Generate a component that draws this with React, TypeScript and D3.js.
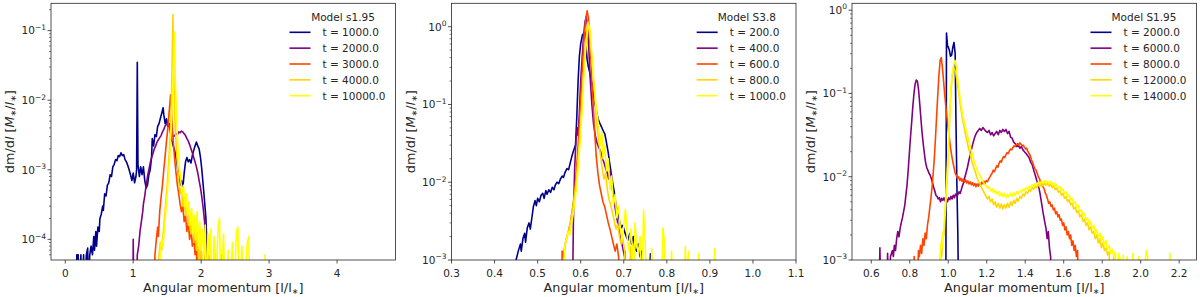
import * as d3 from 'd3';

type Pt = [number, number];

// angular momentum l, dm/dl ; 0 = empty bin (drops below the axis)
const s195_t1000: Pt[] = [[0.16,0],[0.17,6e-5],[0.19,6e-5],[0.2,0],[0.23,6e-5],[0.24,0],[0.27,6e-5],[0.28,0],[0.31,6e-5],[0.33,7.5e-5],[0.34,0],[0.36,6e-5],[0.38,8e-5],[0.4,6e-5],[0.42,1.1e-4],[0.43,7e-5],[0.45,1.3e-4],[0.46,8e-5],[0.48,1.5e-4],[0.5,1.3e-4],[0.51,2e-4],[0.53,2.3e-4],[0.55,3e-4],[0.56,2.6e-4],[0.58,4.5e-4],[0.6,4.2e-4],[0.62,6e-4],[0.64,6.5e-4],[0.66,8.5e-4],[0.68,8e-4],[0.7,1.1e-3],[0.72,1.2e-3],[0.74,1.4e-3],[0.76,1.35e-3],[0.78,1.6e-3],[0.8,1.55e-3],[0.82,1.75e-3],[0.84,1.6e-3],[0.86,1.65e-3],[0.88,1.4e-3],[0.9,1.3e-3],[0.92,1.15e-3],[0.94,1.0e-3],[0.96,8.5e-4],[0.98,7e-4],[1.0,9e-4],[1.02,6.5e-4],[1.04,8e-4],[1.05,1.0e-3],[1.06,3.5e-2],[1.07,1.2e-3],[1.09,8e-4],[1.11,1.1e-3],[1.13,8.5e-4],[1.15,1.1e-3],[1.17,7e-4],[1.19,5.5e-4],[1.21,6e-4],[1.23,8.5e-4],[1.25,1.0e-3],[1.27,1.5e-3],[1.28,2.8e-3],[1.3,2.2e-3],[1.32,3.2e-3],[1.34,3.0e-3],[1.36,4.2e-3],[1.38,4.6e-3],[1.4,5.5e-3],[1.42,6.5e-3],[1.44,7.8e-3],[1.45,6.2e-3],[1.47,4.6e-3],[1.49,5.4e-3],[1.51,4.2e-3],[1.53,4.6e-3],[1.55,3.3e-3],[1.57,2.6e-3],[1.59,2.2e-3],[1.61,1.9e-3],[1.63,1.5e-3],[1.65,1.1e-3],[1.67,8e-4],[1.69,6e-4],[1.71,7e-4],[1.73,5.5e-4],[1.75,9e-4],[1.77,1.3e-3],[1.79,1.5e-3],[1.81,1.3e-3],[1.83,1.4e-3],[1.85,1.25e-3],[1.87,1.6e-3],[1.89,1.9e-3],[1.91,2.2e-3],[1.93,2.5e-3],[1.95,2.2e-3],[1.97,2.0e-3],[1.99,1.5e-3],[2.01,1.0e-3],[2.03,6e-4],[2.05,3.5e-4],[2.07,2e-4],[2.08,1.1e-4],[2.09,0]];
const s195_t2000: Pt[] = [[0.995,0],[1.0,1e-4],[1.01,0],[1.05,0],[1.06,6e-5],[1.08,8e-5],[1.1,1.3e-4],[1.12,1.8e-4],[1.14,2.5e-4],[1.15,3.2e-4],[1.17,4.2e-4],[1.19,6e-4],[1.21,8e-4],[1.23,1.0e-3],[1.25,1.25e-3],[1.27,1.5e-3],[1.29,1.7e-3],[1.31,2.0e-3],[1.33,2.2e-3],[1.35,2.5e-3],[1.37,2.7e-3],[1.39,2.9e-3],[1.41,3.1e-3],[1.43,3.5e-3],[1.45,3.8e-3],[1.47,4.3e-3],[1.49,4.5e-3],[1.51,4.7e-3],[1.53,4.2e-3],[1.55,3.6e-3],[1.57,3.2e-3],[1.59,3.0e-3],[1.61,3.1e-3],[1.63,3.3e-3],[1.65,3.2e-3],[1.67,3.5e-3],[1.69,3.4e-3],[1.71,3.6e-3],[1.73,3.5e-3],[1.75,3.3e-3],[1.77,3.1e-3],[1.79,2.8e-3],[1.81,2.6e-3],[1.83,2.3e-3],[1.85,2.0e-3],[1.87,1.75e-3],[1.89,1.5e-3],[1.91,1.3e-3],[1.93,1.1e-3],[1.95,9e-4],[1.97,7e-4],[1.99,5.5e-4],[2.01,4e-4],[2.03,2.8e-4],[2.05,1.8e-4],[2.06,1.1e-4],[2.07,7e-5],[2.08,0]];
const s195_t3000: Pt[] = [[1.31,0],[1.32,6e-5],[1.34,1e-4],[1.36,1.5e-4],[1.37,1.1e-4],[1.39,2.5e-4],[1.41,4e-4],[1.43,6e-4],[1.45,1.0e-3],[1.47,1.6e-3],[1.49,2.6e-3],[1.51,4e-3],[1.53,7e-3],[1.55,1.2e-2],[1.56,9e-3],[1.57,5e-3],[1.59,2.5e-3],[1.61,1.4e-3],[1.63,9e-4],[1.65,6e-4],[1.67,4.5e-4],[1.69,3.2e-4],[1.71,2.5e-4],[1.73,3e-4],[1.75,1.8e-4],[1.77,2.2e-4],[1.79,1.3e-4],[1.81,1.8e-4],[1.83,1e-4],[1.85,1.4e-4],[1.87,8e-5],[1.89,1.1e-4],[1.91,6e-5],[1.93,1.2e-4],[1.94,0],[1.96,7e-5],[1.97,0],[2.0,6e-5],[2.01,0]];
const s195_t4000: Pt[] = [[1.36,0],[1.38,6e-5],[1.4,9e-5],[1.42,7e-5],[1.44,1.2e-4],[1.46,2e-4],[1.48,3.5e-4],[1.5,6e-4],[1.52,1.2e-3],[1.54,2.5e-3],[1.56,8e-3],[1.57,2.5e-2],[1.585,0.17],[1.595,3e-2],[1.61,6e-3],[1.63,2.5e-3],[1.65,1.2e-3],[1.67,7e-4],[1.69,4.5e-4],[1.71,5.5e-4],[1.73,3e-4],[1.75,4e-4],[1.77,2.2e-4],[1.79,3e-4],[1.81,1.6e-4],[1.83,2.4e-4],[1.85,1.2e-4],[1.87,2e-4],[1.89,9e-5],[1.91,1.5e-4],[1.93,7e-5],[1.95,1.3e-4],[1.97,0],[1.99,1e-4],[2.01,6e-5],[2.03,0],[2.06,9e-5],[2.08,0],[2.12,8e-5],[2.14,0],[2.2,7e-5],[2.22,0],[2.3,6e-5],[2.31,0]];
const s195_t10000: Pt[] = [[1.38,0],[1.4,7e-5],[1.42,1e-4],[1.44,8e-5],[1.46,1.5e-4],[1.48,2.5e-4],[1.5,4.5e-4],[1.52,8e-4],[1.54,1.6e-3],[1.56,4e-3],[1.58,1.5e-2],[1.6,6e-2],[1.61,0.095],[1.62,2e-2],[1.64,5e-3],[1.66,2e-3],[1.68,1.1e-3],[1.7,7e-4],[1.72,4.5e-4],[1.74,6e-4],[1.76,3e-4],[1.78,4.5e-4],[1.8,2.2e-4],[1.82,3.5e-4],[1.84,1.6e-4],[1.86,2.8e-4],[1.88,1.2e-4],[1.9,2.2e-4],[1.92,1e-4],[1.94,2.5e-4],[1.96,8e-5],[1.98,1.8e-4],[2.0,7e-5],[2.02,1.4e-4],[2.04,6e-5],[2.06,1.6e-4],[2.08,0],[2.1,1.2e-4],[2.12,6e-5],[2.14,1.4e-4],[2.16,0],[2.19,1.1e-4],[2.21,0],[2.25,1.6e-4],[2.27,2e-4],[2.29,0],[2.33,1.2e-4],[2.35,0],[2.4,7e-5],[2.42,0],[2.46,9e-5],[2.48,0],[2.52,1.3e-4],[2.54,1.5e-4],[2.56,0],[2.6,8e-5],[2.62,0],[2.68,9e-5],[2.7,1.1e-4],[2.72,0],[2.93,0],[2.94,6e-5],[2.95,0]];

const s38_t200: Pt[] = [[0.447,0],[0.45,1.0e-3],[0.455,1.3e-3],[0.46,1.6e-3],[0.462,1.3e-3],[0.466,1.9e-3],[0.47,2.2e-3],[0.472,1.7e-3],[0.476,2.6e-3],[0.48,3.0e-3],[0.483,2.5e-3],[0.487,3.6e-3],[0.49,4.8e-3],[0.494,5.8e-3],[0.497,5.0e-3],[0.5,6.2e-3],[0.504,5.6e-3],[0.508,6.8e-3],[0.512,7.2e-3],[0.515,6.2e-3],[0.519,7.8e-3],[0.522,7.0e-3],[0.526,8.0e-3],[0.53,7.4e-3],[0.534,8.6e-3],[0.538,8.0e-3],[0.541,9.2e-3],[0.545,1.0e-2],[0.549,9.6e-3],[0.553,1.1e-2],[0.557,1.2e-2],[0.56,1.15e-2],[0.564,1.35e-2],[0.568,1.5e-2],[0.572,1.45e-2],[0.576,1.8e-2],[0.58,2.2e-2],[0.584,2.6e-2],[0.588,3.0e-2],[0.591,7e-2],[0.594,0.2],[0.597,0.42],[0.6,0.6],[0.604,0.78],[0.607,0.82],[0.61,0.86],[0.612,0.6],[0.615,0.38],[0.618,0.3],[0.621,0.26],[0.625,0.2],[0.629,0.15],[0.632,0.11],[0.636,0.085],[0.64,0.066],[0.644,0.058],[0.648,0.052],[0.652,0.046],[0.656,0.042],[0.66,0.032],[0.664,0.024],[0.667,0.018],[0.67,0.014],[0.674,0.01],[0.678,7.5e-3],[0.682,5e-3],[0.686,4.2e-3],[0.69,3.2e-3],[0.694,2.6e-3],[0.698,2.8e-3],[0.702,2.3e-3],[0.706,2.0e-3],[0.71,1.8e-3],[0.714,2.2e-3],[0.718,1.6e-3],[0.722,2.0e-3],[0.726,1.4e-3],[0.73,1.3e-3],[0.734,1.6e-3],[0.738,1.1e-3],[0.742,1.3e-3],[0.746,0],[0.758,0],[0.762,1.2e-3],[0.766,0]];
const s38_t400: Pt[] = [[0.581,0],[0.583,3e-3],[0.586,1.5e-2],[0.589,3.5e-2],[0.592,5e-2],[0.594,4e-2],[0.597,8e-2],[0.6,0.2],[0.604,0.45],[0.607,0.8],[0.61,1.15],[0.613,1.35],[0.616,1.0],[0.619,0.5],[0.622,0.22],[0.626,0.1],[0.63,0.055],[0.634,0.04],[0.638,0.032],[0.642,0.028],[0.646,0.025],[0.65,0.021],[0.654,0.018],[0.658,0.015],[0.662,0.013],[0.665,0.011],[0.668,0.014],[0.671,0.012],[0.674,8e-3],[0.678,5.5e-3],[0.682,4e-3],[0.686,3e-3],[0.69,2.3e-3],[0.694,1.8e-3],[0.698,1.4e-3],[0.702,1.1e-3],[0.705,0]];
const s38_t600: Pt[] = [[0.555,0],[0.557,1.3e-3],[0.56,1.1e-3],[0.564,1.6e-3],[0.568,2.0e-3],[0.572,2.4e-3],[0.576,3.0e-3],[0.58,4.2e-3],[0.584,6e-3],[0.588,1.0e-2],[0.592,2.0e-2],[0.596,4.5e-2],[0.6,0.11],[0.604,0.3],[0.608,0.75],[0.612,1.3],[0.615,1.6],[0.618,1.3],[0.621,0.7],[0.624,0.35],[0.627,0.16],[0.63,0.08],[0.633,0.04],[0.636,0.022],[0.64,0.013],[0.644,9e-3],[0.648,7e-3],[0.652,5.5e-3],[0.656,4.8e-3],[0.66,3.8e-3],[0.664,3.0e-3],[0.668,2.5e-3],[0.672,2.0e-3],[0.676,1.6e-3],[0.68,1.3e-3],[0.684,1.6e-3],[0.688,1.1e-3],[0.692,0],[0.7,0],[0.703,1.3e-3],[0.706,0]];
const s38_t800: Pt[] = [[0.56,0],[0.562,1.4e-3],[0.566,1.8e-3],[0.57,2.2e-3],[0.574,2.6e-3],[0.578,3.4e-3],[0.582,4.8e-3],[0.586,7e-3],[0.59,1.1e-2],[0.594,2e-2],[0.598,4e-2],[0.602,0.09],[0.606,0.22],[0.61,0.5],[0.614,0.9],[0.617,1.15],[0.62,1.0],[0.623,0.65],[0.626,0.38],[0.63,0.2],[0.634,0.1],[0.638,0.055],[0.642,0.034],[0.646,0.022],[0.65,0.015],[0.654,0.011],[0.658,0.013],[0.662,8e-3],[0.666,6e-3],[0.67,5e-3],[0.674,4e-3],[0.678,3.2e-3],[0.682,2.5e-3],[0.686,2.9e-3],[0.69,2e-3],[0.694,1.6e-3],[0.698,1.9e-3],[0.702,1.3e-3],[0.706,0],[0.712,0],[0.716,1.5e-3],[0.72,0]];
const s38_t1000: Pt[] = [[0.56,0],[0.563,1.5e-3],[0.567,1.9e-3],[0.571,2.3e-3],[0.575,2.1e-3],[0.579,3.0e-3],[0.583,4.0e-3],[0.587,6e-3],[0.591,9e-3],[0.595,1.8e-2],[0.599,3.5e-2],[0.603,8e-2],[0.607,0.2],[0.611,0.45],[0.615,0.8],[0.618,1.05],[0.621,0.95],[0.624,0.6],[0.627,0.35],[0.63,0.2],[0.634,0.12],[0.638,0.075],[0.642,0.05],[0.646,0.03],[0.649,0.045],[0.652,0.02],[0.656,0.03],[0.66,0.014],[0.664,0.02],[0.668,8e-3],[0.672,0.012],[0.676,5e-3],[0.68,7e-3],[0.684,3.5e-3],[0.688,5e-3],[0.692,2.6e-3],[0.696,1.8e-3],[0.7,2.8e-3],[0.704,4.5e-3],[0.708,2e-3],[0.712,1.3e-3],[0.716,2.5e-3],[0.72,1.5e-3],[0.724,0],[0.726,3e-3],[0.73,1.6e-3],[0.734,1.2e-3],[0.738,2e-3],[0.742,0],[0.746,4.4e-3],[0.75,1.5e-3],[0.754,0],[0.762,0],[0.765,1.4e-3],[0.768,0],[0.788,0],[0.791,2.6e-3],[0.794,1.8e-3],[0.797,0],[0.808,0],[0.811,1.3e-3],[0.814,0],[0.84,0],[0.843,1.5e-3],[0.846,0],[0.85,1.3e-3],[0.852,0],[0.872,0],[0.874,1.2e-3],[0.876,0],[0.909,0],[0.911,1.4e-3],[0.913,0]];

const S195_t2000: Pt[] = [[0.985,0],[0.988,1e-3],[0.991,0.53],[0.996,0.38],[1.0,0.36],[1.006,0.33],[1.012,0.28],[1.018,0.29],[1.024,0.36],[1.03,0.41],[1.036,0.3],[1.04,0.05],[1.045,8e-3],[1.05,2e-3],[1.054,0]];
const S195_t6000: Pt[] = [[0.64,0],[0.645,1.4e-3],[0.65,0],[0.68,0],[0.685,1.2e-3],[0.69,0],[0.7,1.1e-3],[0.71,1.3e-3],[0.715,1.1e-3],[0.72,1.5e-3],[0.726,1.3e-3],[0.732,1.8e-3],[0.738,2.2e-3],[0.744,1.9e-3],[0.75,2.4e-3],[0.756,2.8e-3],[0.762,3.2e-3],[0.768,3.8e-3],[0.774,4.5e-3],[0.78,6e-3],[0.786,8e-3],[0.792,1.2e-2],[0.798,1.9e-2],[0.804,3e-2],[0.81,4.5e-2],[0.816,7e-2],[0.822,0.1],[0.828,0.13],[0.834,0.145],[0.84,0.14],[0.846,0.11],[0.852,0.075],[0.858,0.05],[0.864,0.034],[0.87,0.025],[0.876,0.019],[0.882,0.015],[0.888,0.013],[0.894,0.012],[0.9,0.011],[0.906,0.0105],[0.912,9.5e-3],[0.918,8.5e-3],[0.924,7.5e-3],[0.93,6.8e-3],[0.936,6e-3],[0.942,5.8e-3],[0.948,5.4e-3],[0.954,5.6e-3],[0.96,5.0e-3],[0.966,5.5e-3],[0.972,5.2e-3],[0.978,5.6e-3],[0.984,5.1e-3],[0.99,5.4e-3],[0.996,5.0e-3],[1.002,5.6e-3],[1.008,5.3e-3],[1.014,5.8e-3],[1.02,5.4e-3],[1.026,6e-3],[1.032,5.6e-3],[1.038,6.2e-3],[1.044,5.9e-3],[1.05,6.1e-3],[1.056,6.6e-3],[1.062,6.3e-3],[1.068,7e-3],[1.074,7.8e-3],[1.08,8.5e-3],[1.086,9.8e-3],[1.092,1.1e-2],[1.1,1.3e-2],[1.108,1.6e-2],[1.116,1.9e-2],[1.124,2.3e-2],[1.132,2.7e-2],[1.14,3.1e-2],[1.148,3.4e-2],[1.156,3.6e-2],[1.164,3.8e-2],[1.172,3.6e-2],[1.18,3.9e-2],[1.188,3.7e-2],[1.196,3.5e-2],[1.204,3.4e-2],[1.212,3.6e-2],[1.22,3.2e-2],[1.228,3.4e-2],[1.236,3.1e-2],[1.244,3.3e-2],[1.252,3.5e-2],[1.26,3.2e-2],[1.268,3.6e-2],[1.276,3.4e-2],[1.284,3.7e-2],[1.292,3.5e-2],[1.3,3.7e-2],[1.308,3.3e-2],[1.316,3.5e-2],[1.324,3.0e-2],[1.332,2.9e-2],[1.34,2.6e-2],[1.348,2.5e-2],[1.356,2.3e-2],[1.364,2.4e-2],[1.372,2.2e-2],[1.38,2.3e-2],[1.388,2.1e-2],[1.396,2.0e-2],[1.404,1.9e-2],[1.412,1.8e-2],[1.42,1.7e-2],[1.428,1.5e-2],[1.436,1.4e-2],[1.444,1.2e-2],[1.452,1.05e-2],[1.46,9e-3],[1.468,8e-3],[1.476,6.5e-3],[1.484,5e-3],[1.492,3.8e-3],[1.5,3e-3],[1.508,2.4e-3],[1.514,1.8e-3],[1.52,2.2e-3],[1.526,1.4e-3],[1.532,1.1e-3],[1.536,0]];
const S195_t8000: Pt[] = [[0.82,0],[0.823,1.1e-3],[0.828,0],[0.84,0],[0.845,1.3e-3],[0.85,1.1e-3],[0.856,1.5e-3],[0.862,1.2e-3],[0.868,1.8e-3],[0.874,1.5e-3],[0.88,2.1e-3],[0.886,1.8e-3],[0.892,2.6e-3],[0.898,3.2e-3],[0.904,4.2e-3],[0.91,5.5e-3],[0.916,7.5e-3],[0.922,1.1e-2],[0.928,1.7e-2],[0.934,3e-2],[0.94,5.5e-2],[0.946,0.1],[0.952,0.17],[0.958,0.25],[0.964,0.27],[0.97,0.2],[0.976,0.14],[0.982,0.095],[0.988,0.068],[0.994,0.05],[1.0,0.037],[1.006,0.029],[1.012,0.022],[1.018,0.018],[1.024,0.015],[1.03,0.013],[1.036,0.011],[1.042,0.0105],[1.048,9.5e-3],[1.054,1.0e-2],[1.06,9e-3],[1.066,9.6e-3],[1.072,8.8e-3],[1.078,9.4e-3],[1.084,8.6e-3],[1.09,9.2e-3],[1.096,8.4e-3],[1.102,8.9e-3],[1.108,8.2e-3],[1.114,8.7e-3],[1.12,8.0e-3],[1.126,8.5e-3],[1.132,7.8e-3],[1.138,8.3e-3],[1.144,7.6e-3],[1.15,8.2e-3],[1.156,7.7e-3],[1.162,8.4e-3],[1.168,7.9e-3],[1.174,8.6e-3],[1.18,8.2e-3],[1.186,8.8e-3],[1.192,8.4e-3],[1.198,9.0e-3],[1.204,8.7e-3],[1.21,9.4e-3],[1.216,9.9e-3],[1.222,1.05e-2],[1.228,1.1e-2],[1.234,1.2e-2],[1.24,1.15e-2],[1.246,1.25e-2],[1.252,1.35e-2],[1.258,1.3e-2],[1.264,1.45e-2],[1.27,1.55e-2],[1.276,1.5e-2],[1.282,1.65e-2],[1.288,1.75e-2],[1.294,1.7e-2],[1.3,1.85e-2],[1.306,1.95e-2],[1.312,1.9e-2],[1.318,2.05e-2],[1.324,2.15e-2],[1.33,2.1e-2],[1.336,2.25e-2],[1.342,2.35e-2],[1.348,2.3e-2],[1.354,2.45e-2],[1.36,2.5e-2],[1.366,2.4e-2],[1.372,2.55e-2],[1.378,2.45e-2],[1.384,2.35e-2],[1.39,2.4e-2],[1.396,2.25e-2],[1.402,2.15e-2],[1.408,2.2e-2],[1.414,2.0e-2],[1.42,1.9e-2],[1.426,1.8e-2],[1.432,1.6e-2],[1.438,1.5e-2],[1.444,1.35e-2],[1.45,1.25e-2],[1.456,1.2e-2],[1.462,1.1e-2],[1.468,1.0e-2],[1.474,9.5e-3],[1.48,8.5e-3],[1.486,8e-3],[1.492,7.6e-3],[1.498,7.2e-3],[1.504,6.4e-3],[1.51,6e-3],[1.516,5.4e-3],[1.522,4.8e-3],[1.528,5e-3],[1.534,4.4e-3],[1.54,4.6e-3],[1.546,4.0e-3],[1.552,4.2e-3],[1.558,3.6e-3],[1.564,3.8e-3],[1.57,3.3e-3],[1.576,3.5e-3],[1.582,3.0e-3],[1.588,3.1e-3],[1.594,2.6e-3],[1.6,2.8e-3],[1.606,2.3e-3],[1.612,2.5e-3],[1.618,2e-3],[1.624,2.2e-3],[1.63,1.8e-3],[1.636,2e-3],[1.642,1.5e-3],[1.648,1.7e-3],[1.654,1.3e-3],[1.66,1.5e-3],[1.666,1.1e-3],[1.672,1.3e-3],[1.678,0]];
const S195_t12000: Pt[] = [[0.958,0],[0.962,1.3e-3],[0.966,1.1e-3],[0.97,1.7e-3],[0.974,2.2e-3],[0.978,2e-3],[0.982,3e-3],[0.986,4.2e-3],[0.99,6e-3],[0.994,9e-3],[0.998,1.4e-2],[1.002,2.4e-2],[1.006,4e-2],[1.01,6.5e-2],[1.015,0.11],[1.02,0.15],[1.025,0.18],[1.03,0.2],[1.035,0.19],[1.04,0.17],[1.046,0.14],[1.052,0.11],[1.058,0.088],[1.064,0.07],[1.07,0.057],[1.076,0.047],[1.082,0.04],[1.088,0.034],[1.094,0.029],[1.1,0.025],[1.108,0.021],[1.116,0.018],[1.124,0.015],[1.132,0.013],[1.14,0.0115],[1.148,0.01],[1.156,9e-3],[1.164,8.3e-3],[1.172,7.5e-3],[1.18,6.9e-3],[1.188,6.3e-3],[1.196,5.8e-3],[1.204,5.4e-3],[1.212,5.8e-3],[1.22,5.0e-3],[1.228,5.4e-3],[1.236,4.6e-3],[1.244,5.0e-3],[1.252,4.3e-3],[1.26,4.8e-3],[1.268,4.2e-3],[1.276,4.7e-3],[1.284,4.1e-3],[1.292,4.6e-3],[1.3,4.2e-3],[1.308,4.8e-3],[1.316,4.3e-3],[1.324,5.0e-3],[1.332,4.5e-3],[1.34,5.2e-3],[1.348,4.8e-3],[1.356,5.5e-3],[1.364,5.1e-3],[1.372,5.8e-3],[1.38,5.5e-3],[1.388,6.2e-3],[1.396,5.9e-3],[1.404,6.6e-3],[1.412,6.3e-3],[1.42,7.0e-3],[1.428,6.7e-3],[1.436,7.4e-3],[1.444,7.1e-3],[1.452,7.7e-3],[1.46,7.4e-3],[1.468,8.0e-3],[1.476,7.6e-3],[1.484,8.2e-3],[1.492,7.8e-3],[1.5,8.4e-3],[1.508,7.9e-3],[1.516,8.3e-3],[1.524,7.7e-3],[1.532,8.1e-3],[1.54,7.4e-3],[1.548,7.8e-3],[1.556,7.0e-3],[1.564,7.3e-3],[1.572,6.5e-3],[1.58,6.8e-3],[1.588,6.0e-3],[1.596,6.3e-3],[1.604,5.5e-3],[1.612,5.8e-3],[1.62,5.0e-3],[1.628,5.3e-3],[1.636,4.6e-3],[1.644,4.8e-3],[1.652,4.1e-3],[1.66,4.3e-3],[1.668,3.7e-3],[1.676,3.9e-3],[1.684,3.3e-3],[1.692,3.5e-3],[1.7,2.9e-3],[1.708,3.1e-3],[1.716,2.6e-3],[1.724,2.8e-3],[1.732,2.3e-3],[1.74,2.5e-3],[1.748,2.1e-3],[1.756,2.2e-3],[1.764,1.8e-3],[1.772,2.0e-3],[1.78,1.6e-3],[1.788,1.8e-3],[1.796,1.4e-3],[1.804,1.6e-3],[1.812,1.3e-3],[1.82,1.4e-3],[1.828,1.15e-3],[1.836,1.25e-3],[1.844,0],[1.86,1.1e-3],[1.866,0],[1.89,1.05e-3],[1.896,0]];
const S195_t14000: Pt[] = [[0.955,0],[0.958,1.2e-3],[0.962,1.6e-3],[0.966,1.4e-3],[0.97,2e-3],[0.974,1.8e-3],[0.978,2.6e-3],[0.982,3.5e-3],[0.986,5e-3],[0.99,7.5e-3],[0.994,1.1e-2],[0.998,1.8e-2],[1.002,3e-2],[1.006,5e-2],[1.01,8e-2],[1.015,0.13],[1.02,0.17],[1.025,0.2],[1.03,0.23],[1.035,0.25],[1.04,0.22],[1.046,0.17],[1.052,0.13],[1.058,0.1],[1.064,0.08],[1.07,0.065],[1.076,0.054],[1.082,0.046],[1.088,0.04],[1.094,0.035],[1.1,0.031],[1.108,0.026],[1.116,0.022],[1.124,0.019],[1.132,0.016],[1.14,0.014],[1.148,0.0125],[1.156,0.011],[1.164,0.0105],[1.172,9.5e-3],[1.18,8.8e-3],[1.188,8.2e-3],[1.196,7.8e-3],[1.204,7.2e-3],[1.212,7.6e-3],[1.22,6.8e-3],[1.228,7.2e-3],[1.236,6.4e-3],[1.244,6.9e-3],[1.252,6.2e-3],[1.26,6.6e-3],[1.268,5.9e-3],[1.276,6.4e-3],[1.284,5.8e-3],[1.292,6.3e-3],[1.3,5.6e-3],[1.308,6.2e-3],[1.316,5.7e-3],[1.324,6.3e-3],[1.332,5.8e-3],[1.34,6.4e-3],[1.348,6.0e-3],[1.356,6.6e-3],[1.364,6.2e-3],[1.372,6.8e-3],[1.38,6.5e-3],[1.388,7.1e-3],[1.396,6.8e-3],[1.404,7.4e-3],[1.412,7.1e-3],[1.42,7.7e-3],[1.428,7.4e-3],[1.436,8.0e-3],[1.444,7.7e-3],[1.452,8.3e-3],[1.46,8.0e-3],[1.468,8.6e-3],[1.476,8.2e-3],[1.484,8.8e-3],[1.492,8.4e-3],[1.5,9.0e-3],[1.508,8.5e-3],[1.516,8.9e-3],[1.524,8.3e-3],[1.532,8.8e-3],[1.54,8.1e-3],[1.548,8.5e-3],[1.556,7.7e-3],[1.564,8.1e-3],[1.572,7.3e-3],[1.58,7.6e-3],[1.588,6.8e-3],[1.596,7.1e-3],[1.604,6.3e-3],[1.612,6.6e-3],[1.62,5.8e-3],[1.628,6.1e-3],[1.636,5.3e-3],[1.644,5.5e-3],[1.652,4.8e-3],[1.66,5.0e-3],[1.668,4.3e-3],[1.676,4.5e-3],[1.684,3.8e-3],[1.692,4.0e-3],[1.7,3.4e-3],[1.708,3.6e-3],[1.716,3.0e-3],[1.724,3.2e-3],[1.732,2.7e-3],[1.74,2.9e-3],[1.748,2.4e-3],[1.756,2.6e-3],[1.764,2.1e-3],[1.772,2.3e-3],[1.78,1.9e-3],[1.788,2.1e-3],[1.796,1.7e-3],[1.804,1.9e-3],[1.812,1.5e-3],[1.82,1.7e-3],[1.828,1.35e-3],[1.836,1.5e-3],[1.844,1.2e-3],[1.852,1.35e-3],[1.86,1.1e-3],[1.868,1.25e-3],[1.876,0],[1.884,1.2e-3],[1.892,1.05e-3],[1.9,0],[1.91,1.15e-3],[1.916,0],[1.93,1.1e-3],[1.936,0],[1.96,1.2e-3],[1.966,0],[1.99,1.1e-3],[1.996,0],[2.03,1.3e-3],[2.036,1.1e-3],[2.042,0],[2.148,0],[2.152,1.2e-3],[2.156,0]];

const seriesColors = ['#00008b', '#800080', '#ff4500', '#ffd700', '#ffff00'];

const panelTitles = ['Model s1.95', 'Model S3.8', 'Model S1.95'];
const panelLabels = [
  ['t = 1000.0', 't = 2000.0', 't = 3000.0', 't = 4000.0', 't = 10000.0'],
  ['t = 200.0', 't = 400.0', 't = 600.0', 't = 800.0', 't = 1000.0'],
  ['t = 2000.0', 't = 6000.0', 't = 8000.0', 't = 12000.0', 't = 14000.0'],
];
const panelSeries = [
  [s195_t1000, s195_t2000, s195_t3000, s195_t4000, s195_t10000],
  [s38_t200, s38_t400, s38_t600, s38_t800, s38_t1000],
  [S195_t2000, S195_t6000, S195_t8000, S195_t12000, S195_t14000],
];
const xDomains: [number, number][] = [[-0.21, 4.86], [0.3, 1.1], [0.5, 2.29]];
const yDomains: [number, number][] = [[5.05e-5, 0.247], [1e-3, 2.0], [1e-3, 1.21]];
const xTickValues = [[0, 1, 2, 3, 4], [0.3, 0.4, 0.5, 0.6, 0.7, 0.8, 0.9, 1.0, 1.1], [0.6, 0.8, 1.0, 1.2, 1.4, 1.6, 1.8, 2.0, 2.2]];
const xTickDigits = [0, 1, 1];

const FONT = 'DejaVu Sans, sans-serif';
const W = 1200;
const H = 297;
const lefts = [51, 451.5, 852];
const PW = 344.5;
const TOP = 3.3;
const BOTTOM = 260;
const INK = '#262626';

// DejaVu Sans advance widths (em) for the legend characters
const ADV: Record<string, number> = { t: 0.392, ' ': 0.318, '=': 0.838, '.': 0.318 };
function textWidth(s: string, size: number) {
  let w = 0;
  for (const ch of s) w += ADV[ch] ?? 0.636;
  return w * size;
}

function Panel({ i }: { i: number }) {
  const left = lefts[i];
  const right = left + PW;
  const x = d3.scaleLinear().domain(xDomains[i]).range([left, right]);
  const y = d3.scaleLog().domain(yDomains[i]).range([BOTTOM, TOP]);
  const line = d3.line<Pt>()
    .x((d) => x(d[0]))
    .y((d) => (d[1] > 0 ? y(d[1]) : BOTTOM + 40));

  const [y0, y1] = yDomains[i];
  const majors: number[] = [];
  const minors: number[] = [];
  for (let k = Math.floor(Math.log10(y0)); k <= Math.ceil(Math.log10(y1)); k++) {
    const base = Math.pow(10, k);
    if (base >= y0 * 0.999 && base <= y1) majors.push(k);
    for (let m = 2; m <= 9; m++) {
      const v = m * base;
      if (v > y0 && v < y1) minors.push(v);
    }
  }

  const labels = panelLabels[i];
  const fs = 10.5;
  const maxW = Math.max(...labels.map((s) => textWidth(s, fs)));
  const textEnd = right - 10;
  const textStart = textEnd - maxW;
  const titleX = (textStart + textEnd) / 2 - 11;
  const clipId = `clip${i}`;
  const cx = (left + right) / 2;
  const cy = (TOP + BOTTOM) / 2;

  return (
    <g>
      <clipPath id={clipId}>
        <rect x={left} y={TOP} width={PW} height={BOTTOM - TOP} />
      </clipPath>
      <g clipPath={`url(#${clipId})`}>
        {panelSeries[i].map((s, j) => (
          <path key={j} d={line(s) || ''} fill="none" stroke={seriesColors[j]} strokeWidth={1.6} strokeLinejoin="round" />
        ))}
      </g>
      <rect x={left} y={TOP} width={PW} height={BOTTOM - TOP} fill="none" stroke={INK} strokeWidth={0.8} />
      {xTickValues[i].map((t) => (
        <g key={t}>
          <line x1={x(t)} x2={x(t)} y1={BOTTOM} y2={BOTTOM + 3.5} stroke={INK} strokeWidth={0.8} />
          <text x={x(t)} y={BOTTOM + 16.5} textAnchor="middle" fontSize={10.5} fill={INK}>
            {t.toFixed(xTickDigits[i])}
          </text>
        </g>
      ))}
      {minors.map((v) => (
        <line key={v} x1={left - 2} x2={left} y1={y(v)} y2={y(v)} stroke={INK} strokeWidth={0.6} />
      ))}
      {majors.map((k) => (
        <g key={k}>
          <line x1={left - 3.5} x2={left} y1={y(Math.pow(10, k))} y2={y(Math.pow(10, k))} stroke={INK} strokeWidth={0.8} />
          <text x={left - 5} y={y(Math.pow(10, k)) + 3.8} textAnchor="end" fontSize={10.5} fill={INK}>
            <tspan>10</tspan>
            <tspan dy={-4.5} fontSize={7.5}>{k < 0 ? `\u2212${-k}` : `${k}`}</tspan>
          </text>
        </g>
      ))}
      <text x={cx} y={291.5} textAnchor="middle" fontSize={12.8} fill={INK}>
        Angular momentum [l/l<tspan fontSize={8} dy={2}>{'\u2217'}</tspan><tspan dy={-2}>]</tspan>
      </text>
      <text transform={`translate(${left - 37},${cy}) rotate(-90)`} textAnchor="middle" fontSize={12.8} fill={INK}>
        dm/d<tspan fontStyle="italic">l</tspan> [<tspan fontStyle="italic">M</tspan>
        <tspan fontSize={8} dy={2}>{'\u2217'}</tspan>
        <tspan dy={-2}>/</tspan><tspan fontStyle="italic">l</tspan>
        <tspan fontSize={8} dy={2}>{'\u2217'}</tspan>
        <tspan dy={-2}>]</tspan>
      </text>
      <text x={titleX} y={20.8} textAnchor="middle" fontSize={fs} fill={INK}>{panelTitles[i]}</text>
      {labels.map((lab, j) => {
        const yy = 32.3 + j * 15.85;
        return (
          <g key={lab}>
            <line x1={textStart - 33} x2={textStart - 12} y1={yy} y2={yy} stroke={seriesColors[j]} strokeWidth={1.6} />
            <text x={textStart} y={yy + 3.8} fontSize={fs} fill={INK}>{lab}</text>
          </g>
        );
      })}
    </g>
  );
}

export default function App() {
  return (
    <svg width={W} height={H} viewBox={`0 0 ${W} ${H}`} fontFamily={FONT}
      style={{ position: 'absolute', left: 0, top: 0, background: '#fff' }}>
      <rect width={W} height={H} fill="#fff" />
      {[0, 1, 2].map((i) => <Panel key={i} i={i} />)}
    </svg>
  );
}
